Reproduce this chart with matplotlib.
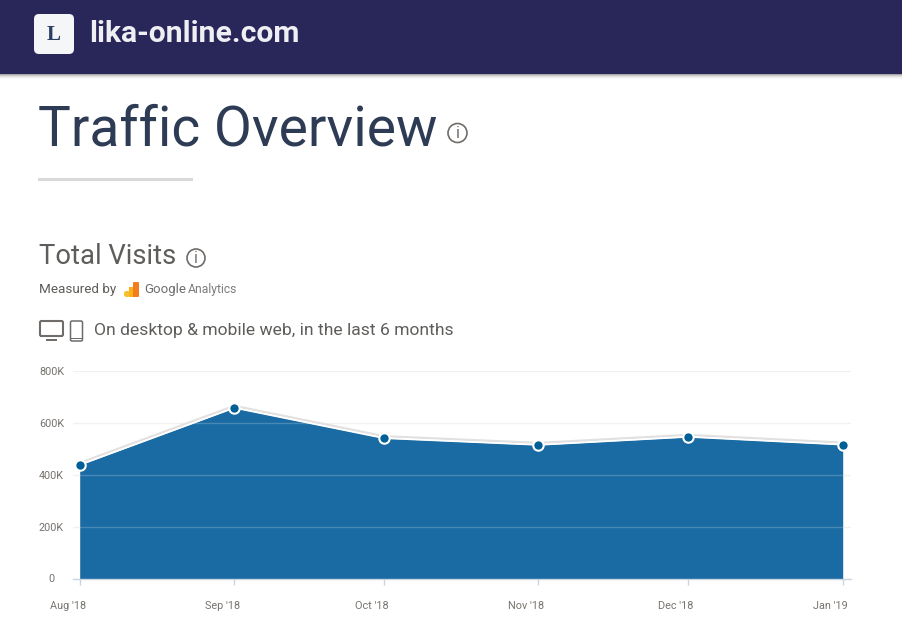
import matplotlib
matplotlib.use("Agg")
import matplotlib.pyplot as plt
from matplotlib.patches import Circle, FancyBboxPatch, Rectangle
from matplotlib.transforms import ScaledTranslation, offset_copy

plt.rcParams["font.family"] = ["Roboto", "DejaVu Sans"]

W, H = 902, 625

# days since 1 Aug 2018, the axis is a time axis
MONTH_DAYS = [0, 31, 61, 92, 122, 153]
MONTH_LABELS = ["Aug '18", "Sep '18", "Oct '18", "Nov '18", "Dec '18", "Jan '19"]
VISITS = [438000, 658000, 541000, 515000, 546000, 516000]
Y_TICKS = [0, 200000, 400000, 600000, 800000]
Y_LABELS = ["0", "200K", "400K", "600K", "800K"]

HEADER_COLOR = "#29275a"
TITLE_COLOR = "#2d3b55"
TEXT_COLOR = "#5f5d5a"
TICK_TEXT = "#77736f"
ICON_COLOR = "#6f6c69"
AREA_COLOR = "#1a6ba3"
POINT_COLOR = "#005f96"
GRID_COLOR = "#f0f0ef"
TICK_COLOR = "#c9d6e2"


def info_icon(page, x, y, r):
    page.add_patch(Circle((x, y), r, fc="white", ec=ICON_COLOR, lw=1.2))
    page.text(x, y + 0.3, "i", color=ICON_COLOR, fontsize=r * 1.25,
              ha="center", va="center")


fig = plt.figure(figsize=(W / 100, H / 100), dpi=100, facecolor="white")

# page layer in pixel coordinates, y going down like the screenshot
page = fig.add_axes([0, 0, 1, 1], zorder=0)
page.set_xlim(0, W)
page.set_ylim(H, 0)
page.axis("off")

# header bar with its soft shadow
page.add_patch(Rectangle((0, 0), W, 74, fc=HEADER_COLOR, ec="none"))
for i, shade in enumerate(["#a8a8a8", "#c8c8c8", "#e0e0e0", "#efefef", "#f8f8f8"]):
    page.add_patch(Rectangle((0, 74 + i), W, 1, fc=shade, ec="none"))

page.add_patch(FancyBboxPatch((34, 14), 40, 40, boxstyle="round,pad=0,rounding_size=5",
                              fc="#f5f6f8", ec="none"))
page.text(54, 35, "L", color="#2c3e63", fontsize=15, fontweight="bold",
          family="Liberation Serif", ha="center", va="center")
page.text(89, 33.5, "lika-online.com", color="#eeeef3", fontsize=21.7,
          fontweight="bold", ha="left", va="center")

page.text(38, 145, "Traffic Overview", color=TITLE_COLOR, fontsize=39.7,
          ha="left", va="baseline")
info_icon(page, 457.5, 133, 9.5)
page.add_patch(Rectangle((38, 178), 155, 3, fc="#d9d9d9", ec="none"))

page.text(39, 257, "Total Visits", color=TEXT_COLOR, fontsize=19.7, ha="left", va="center")
info_icon(page, 196, 258, 9)
page.text(39, 289.5, "Measured by", color=TEXT_COLOR, fontsize=9.7, ha="left", va="center")

# Google Analytics logo, a staircase of three bars
page.add_patch(FancyBboxPatch((124, 291), 6, 6, boxstyle="round,pad=0,rounding_size=2.5",
                              fc="#f9c02d", ec="none"))
page.add_patch(Rectangle((129, 287), 5, 10, fc="#fbb117", ec="none"))
page.add_patch(FancyBboxPatch((133, 282), 6, 15, boxstyle="round,pad=0,rounding_size=1",
                              fc="#f37c1e", ec="none"))
page.text(144, 290, "Google", color="#6e6e6e", fontsize=9.5, ha="left", va="center")
page.text(188, 290, "Analytics", color="#7c7c7c", fontsize=8.7, ha="left", va="center")

# desktop and phone icons
page.add_patch(FancyBboxPatch((40, 321), 23, 15, boxstyle="round,pad=0,rounding_size=1.5",
                              fc="white", ec=ICON_COLOR, lw=1.5))
page.add_patch(Rectangle((40, 334.5), 23, 2.5, fc=ICON_COLOR, ec="none"))
page.add_patch(Rectangle((46, 339), 11, 1.5, fc=ICON_COLOR, ec="none"))
page.add_patch(FancyBboxPatch((70.5, 321), 12, 20, boxstyle="round,pad=0,rounding_size=1.5",
                              fc="white", ec=ICON_COLOR, lw=1.1))
page.add_patch(Rectangle((71, 337.5), 11, 1, fc=ICON_COLOR, ec="none"))
page.text(94, 330.5, "On desktop & mobile web, in the last 6 months", color=TEXT_COLOR,
          fontsize=12.6, ha="left", va="center")

# chart, placed so the gridlines span 73..851 px and 0..800K span 578.5..371 px
ax = fig.add_axes([73 / W, 1 - 578.5 / H, (851 - 73) / W, (578.5 - 371) / H], zorder=1)
ax.patch.set_alpha(0)
px_per_day = (843 - 80) / 153
ax.set_xlim(-6.7 / px_per_day, 153 + 8.3 / px_per_day)
ax.set_ylim(0, 800000)
for side in ["top", "right", "left"]:
    ax.spines[side].set_visible(False)
ax.spines["bottom"].set_color(TICK_COLOR)
ax.spines["bottom"].set_linewidth(1)

ax.fill_between(MONTH_DAYS, 0, VISITS, color=AREA_COLOR, lw=0, zorder=2)
ax.set_yticks(Y_TICKS, Y_LABELS)
ax.grid(axis="y", color=GRID_COLOR, lw=1, zorder=1)
for value in Y_TICKS[1:4]:
    ax.axhline(value, color="#ffffff", alpha=0.2, lw=1, zorder=3)
ax.set_axisbelow(True)

# white halo line with a light grey shadow just above it
shadow = offset_copy(ax.transData, fig=fig, x=0, y=2, units="dots")
ax.plot(MONTH_DAYS, VISITS, color="#e2e0e0", lw=1.6, transform=shadow, zorder=3, clip_on=False)
ax.plot(MONTH_DAYS, VISITS, color="white", lw=1.2, zorder=4, clip_on=False)
ax.plot(MONTH_DAYS, VISITS, ls="none", marker="o", ms=7.5, mfc=POINT_COLOR, mec="white",
        mew=1.5, zorder=5, clip_on=False)

ax.set_xticks(MONTH_DAYS, MONTH_LABELS)
ax.tick_params(axis="x", length=4.5, width=1, color=TICK_COLOR, labelcolor=TICK_TEXT,
               labelsize=7.8, pad=12)
ax.tick_params(axis="y", length=0, labelcolor=TICK_TEXT, labelsize=7.8, pad=0)
for label in ax.get_yticklabels():
    label.set_ha("center")
    label.set_x(-21.5 / (851 - 73))
for label in ax.get_xticklabels():
    label.set_transform(label.get_transform() + ScaledTranslation(-12 / 100, 0, fig.dpi_scale_trans))

fig.savefig("out.png", dpi=100)
